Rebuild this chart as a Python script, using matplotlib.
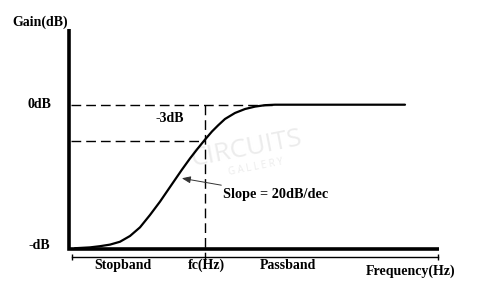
import matplotlib
matplotlib.use("Agg")
import matplotlib.pyplot as plt

# ---- data (frequency in arbitrary linear units, gain in dB) ----
curve_freq = [1.62, 5.68, 8.38, 11.08, 13.78, 16.49, 19.19, 21.89, 24.59, 27.30,
              30.46, 32.70, 34.59, 36.62, 38.65, 40.27, 42.16, 44.86, 47.57,
              50.27, 52.97, 55.68, 90.81]
curve_gain = [-11.96, -11.89, -11.79, -11.66, -11.42, -10.94, -10.22, -9.19,
              -8.08, -6.86, -5.44, -4.48, -3.73, -2.96, -2.23, -1.73, -1.19,
              -0.69, -0.36, -0.16, -0.04, 0.0, 0.0]

gain_top = 6.3
gain_bottom = -12.0
freq_end = 100.0
fc = 36.8
pass_edge = 55.0
level_0db = 0.0
level_3db = -3.0

y_labels = ["0dB", "-dB"]
y_label_vals = [level_0db, gain_bottom + 0.25]
band_labels = ["Stopband", "fc(Hz)", "Passband"]
band_label_x = [14.6, 37.2, 59.2]

plt.rcParams['font.family'] = ['Liberation Serif', 'DejaVu Serif']

fig = plt.figure(figsize=(5.0, 2.94), dpi=100)
ax = fig.add_axes([0, 0, 1, 1])
ax.set_xlim(-69 / 3.7, (500 - 69) / 3.7)
ax.set_ylim(-(294 - 104.7) / 12, 104.7 / 12)
ax.axis("off")

fw = dict(fontweight="bold", fontsize=10, color="black")

# watermark
ax.text(48.0, -3.7, "CIRCUITS", fontsize=19, color="#ececec", rotation=11,
        ha="center", va="center", family=["Open Sans", "DejaVu Sans"], zorder=0)
ax.text(50.5, -5.2, "G A L L E R Y", fontsize=7, color="#ececec", rotation=11,
        ha="center", va="center", family=["Open Sans", "DejaVu Sans"], zorder=0)

# axes
ax.plot([0, 0, freq_end], [gain_top, gain_bottom, gain_bottom], color="black",
        lw=2.6, solid_joinstyle="miter", solid_capstyle="butt", zorder=3)

# dashed guides
dash = dict(color="black", lw=1.0, dashes=(7, 3.6), zorder=1)
ax.plot([0.5, pass_edge], [level_0db, level_0db], **dash)
ax.plot([0.5, fc], [level_3db, level_3db], **dash)
ax.plot([fc, fc], [level_0db, -13.6], **dash)

# response curve
ax.plot(curve_freq, curve_gain, color="black", lw=1.6, zorder=2,
        solid_capstyle="round", solid_joinstyle="round")

# frequency band line
ax.plot([0.8, 99.7], [-12.65, -12.65], color="black", lw=1.0)
ax.plot([0.8, 99.7], [-12.65, -12.65], ls="none", marker="|", ms=5,
        mew=1.0, color="black")

# labels
ax.text(-7.8, 6.9, "Gain(dB)", ha="center", va="center", **fw)
for lab, v in zip(y_labels, y_label_vals):
    ax.text(-7.9, v, lab, ha="center", va="center", **fw)
ax.text(27.3, -1.13, "-3dB", ha="center", va="center", **fw)
for lab, x in zip(band_labels, band_label_x):
    ax.text(x, -13.4, lab, ha="center", va="center", **fw)
ax.text(92.2, -13.9, "Frequency(Hz)", ha="center", va="center", **fw)

ax.annotate("Slope = 20dB/dec", xy=(30.5, -6.13), xytext=(41.6, -7.5),
            ha="left", va="center", fontsize=10.3, fontweight="bold",
            color="black",
            arrowprops=dict(arrowstyle="-|>,head_length=0.5,head_width=0.2",
                            color="#333333", lw=0.7, shrinkA=1, shrinkB=0))

fig.savefig("out.png", dpi=100, facecolor="white")
